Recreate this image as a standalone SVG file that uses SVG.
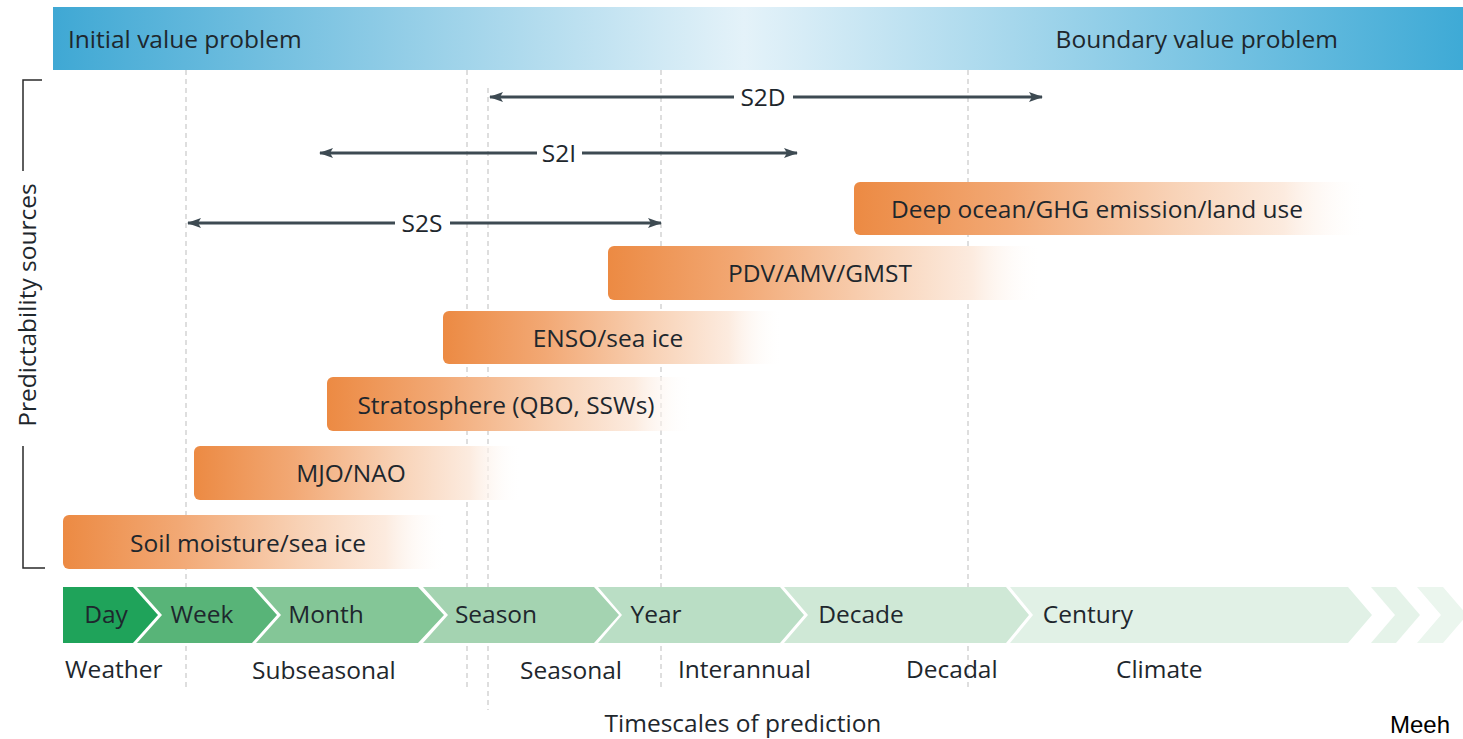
<svg xmlns="http://www.w3.org/2000/svg" width="1463" height="739" viewBox="0 0 1463 739">
<defs>
<linearGradient id="hdr" x1="0" y1="0" x2="1" y2="0">
<stop offset="0" stop-color="#3fa8d4"/>
<stop offset="0.49" stop-color="#e4f2f9"/>
<stop offset="1" stop-color="#3eaad6"/>
</linearGradient>
<linearGradient id="org" x1="0" y1="0" x2="1" y2="0">
<stop offset="0" stop-color="#ec8a43"/>
<stop offset="0.3" stop-color="#f2a874"/>
<stop offset="0.62" stop-color="#f8d2b6"/>
<stop offset="0.84" stop-color="#fcebdf"/>
<stop offset="1" stop-color="#ffffff" stop-opacity="0"/>
</linearGradient>
<marker id="ah" viewBox="0 0 14 10" refX="13" refY="5" markerWidth="14" markerHeight="10" markerUnits="userSpaceOnUse" orient="auto-start-reverse">
<path d="M0,0 L14,5 L0,10 L3,5 Z" fill="#3d4a52"/>
</marker>
<style>
.t{font-family:"Open Sans","Noto Sans","Liberation Sans",sans-serif;fill:#1e272d;font-size:24.5px}
.dl{stroke:#c9c9c9;stroke-width:1.2;stroke-dasharray:5,4;fill:none}
.ar{stroke:#3d4a52;stroke-width:3;fill:none}
.bar{fill:url(#org)}
</style>
</defs>

<g id="header">
<rect x="53" y="7" width="1410" height="63" fill="url(#hdr)"/>
<text class="t" x="68" y="48">Initial value problem</text>
<text class="t" x="1338" y="48" text-anchor="end">Boundary value problem</text>
</g>

<g id="gridlines">
<line class="dl" x1="186" y1="70" x2="186" y2="688"/>
<line class="dl" x1="467" y1="70" x2="467" y2="688"/>
<line class="dl" x1="488" y1="88" x2="488" y2="710"/>
<line class="dl" x1="661" y1="70" x2="661" y2="688"/>
<line class="dl" x1="968" y1="70" x2="968" y2="688"/>
</g>

<g id="predictability-sources">
<path d="M42,80 H23 V171 M23,446 V568 H45" fill="none" stroke="#2a2a2a" stroke-width="1.5"/>
<text class="t" transform="translate(36,305) rotate(-90)" text-anchor="middle">Predictability sources</text>
</g>

<g id="connectors">
<line class="ar" x1="490" y1="97" x2="734" y2="97" marker-start="url(#ah)"/>
<line class="ar" x1="793" y1="97" x2="1042" y2="97" marker-end="url(#ah)"/>
<line class="ar" x1="320" y1="153" x2="537" y2="153" marker-start="url(#ah)"/>
<line class="ar" x1="582" y1="153" x2="797" y2="153" marker-end="url(#ah)"/>
<line class="ar" x1="188" y1="223" x2="395" y2="223" marker-start="url(#ah)"/>
<line class="ar" x1="450" y1="223" x2="661" y2="223" marker-end="url(#ah)"/>
</g>
<g id="arrow-labels">
<text class="t" x="763" y="106" text-anchor="middle">S2D</text>
<text class="t" x="559" y="162" text-anchor="middle">S2I</text>
<text class="t" x="422" y="232" text-anchor="middle">S2S</text>
</g>

<g id="deep-ocean">
<rect class="bar" x="854" y="182" width="512" height="53" rx="6"/>
<text class="t" x="1097" y="218" text-anchor="middle">Deep ocean/GHG emission/land use</text>
</g>
<g id="pdv">
<rect class="bar" x="608" y="246" width="434" height="54" rx="6"/>
<text class="t" x="820" y="282" text-anchor="middle">PDV/AMV/GMST</text>
</g>
<g id="enso">
<rect class="bar" x="443" y="311" width="340" height="53" rx="6"/>
<text class="t" x="608" y="347" text-anchor="middle">ENSO/sea ice</text>
</g>
<g id="stratosphere">
<rect class="bar" x="327" y="377" width="366" height="54" rx="6"/>
<text class="t" x="506" y="414" text-anchor="middle">Stratosphere (QBO, SSWs)</text>
</g>
<g id="mjo">
<rect class="bar" x="194" y="446" width="328" height="54" rx="6"/>
<text class="t" x="351" y="482" text-anchor="middle">MJO/NAO</text>
</g>
<g id="soil">
<rect class="bar" x="63" y="515" width="384" height="54" rx="6"/>
<text class="t" x="248" y="552" text-anchor="middle">Soil moisture/sea ice</text>
</g>

<g id="timeline">
<g id="day"><path d="M63,587 H133 L158,615 L133,643 H63 Z" fill="#1fa35a"/><text class="t" x="106" y="623" text-anchor="middle">Day</text></g>
<g id="week"><path d="M137,587 H252 L277,615 L252,643 H137 L162,615 Z" fill="#58b478"/><text class="t" x="202" y="623" text-anchor="middle">Week</text></g>
<g id="month"><path d="M256,587 H418 L444,615 L418,643 H256 L281,615 Z" fill="#84c697"/><text class="t" x="326" y="623" text-anchor="middle">Month</text></g>
<g id="season"><path d="M423,587 H594 L619,615 L594,643 H423 L448,615 Z" fill="#a4d3b1"/><text class="t" x="496" y="623" text-anchor="middle">Season</text></g>
<g id="year"><path d="M598,587 H780 L804,615 L780,643 H598 L622,615 Z" fill="#badec5"/><text class="t" x="656" y="623" text-anchor="middle">Year</text></g>
<g id="decade"><path d="M784,587 H1006 L1029,615 L1006,643 H784 L808,615 Z" fill="#cfe8d6"/><text class="t" x="861" y="623" text-anchor="middle">Decade</text></g>
<g id="century"><path d="M1010,587 H1348 L1372,615 L1348,643 H1010 L1033,615 Z" fill="#e1f1e6"/><text class="t" x="1088" y="623" text-anchor="middle">Century</text></g>
<g id="more1"><path d="M1371,587 H1396 L1420,615 L1396,643 H1371 L1395,615 Z" fill="#e5f3e9"/></g>
<g id="more2"><path d="M1417,587 H1443 L1467,615 L1443,643 H1417 L1441,615 Z" fill="#ebf6ee"/></g>
</g>

<g id="scale-labels">
<text class="t" x="65" y="678">Weather</text>
<text class="t" x="252" y="679">Subseasonal</text>
<text class="t" x="520" y="679">Seasonal</text>
<text class="t" x="678" y="678">Interannual</text>
<text class="t" x="906" y="678">Decadal</text>
<text class="t" x="1116" y="678">Climate</text>
<text class="t" x="743" y="732" text-anchor="middle">Timescales of prediction</text>
<text x="1390" y="733" font-family="Liberation Sans, Arial, sans-serif" font-size="24" fill="#000">Meeh</text>
</g>
</svg>
